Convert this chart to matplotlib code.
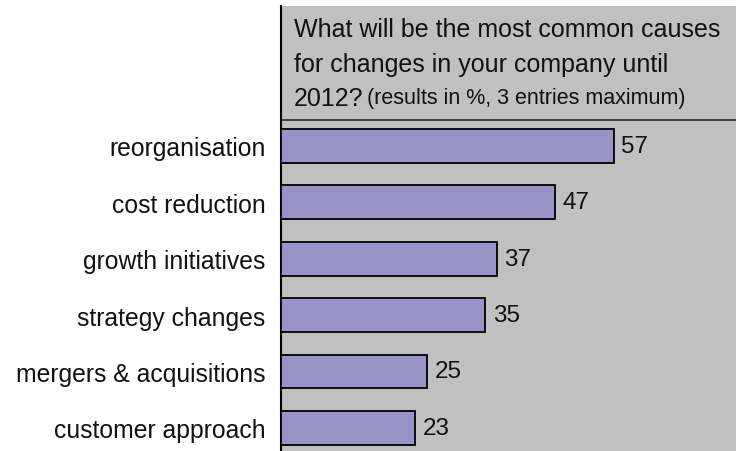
import matplotlib.pyplot as plt

plt.rcParams['font.family'] = ['Liberation Sans', 'DejaVu Sans']

causes = ['reorganisation', 'cost reduction', 'growth initiatives',
          'strategy changes', 'mergers & acquisitions', 'customer approach']
percent = [57, 47, 37, 35, 25, 23]

dpi = 100
fig = plt.figure(figsize=(736 / dpi, 452 / dpi), dpi=dpi)
fig.patch.set_facecolor('white')

# plot area: grey panel, left spine only
ax = fig.add_axes([281 / 736, 0, 455 / 736, 445 / 452])
ax.set_facecolor('#c0c0c0')

pos = list(range(len(causes)))
ax.barh(pos, percent, height=0.6, color='#9894c8', edgecolor='black',
        linewidth=1.3, zorder=3)

for y, v in zip(pos, percent):
    ax.text(v + 1.3, y, str(v), va='center', ha='left', fontsize=17.5,
            color='#111111')

ax.set_xlim(0, 78)
ax.set_ylim(5.41, -2.48)

ax.set_yticks(pos)
ax.set_yticklabels(causes, fontsize=17.8, color='#111111')
ax.tick_params(axis='y', length=0, pad=11)
ax.set_xticks([])

for s in ['top', 'right', 'bottom']:
    ax.spines[s].set_visible(False)
ax.spines['left'].set_linewidth(1.5)

# header box with the question
ax.axhline(-0.46, color='#333333', linewidth=1.3)
ax.text(2.2, -2.07, 'What will be the most common causes', fontsize=18,
        va='center', ha='left', color='#111111')
ax.text(2.2, -1.45, 'for changes in your company until', fontsize=18,
        va='center', ha='left', color='#111111')
ax.text(2.2, -0.85, '2012?', fontsize=18,
        va='center', ha='left', color='#111111')
ax.text(14.8, -0.85, '(results in %, 3 entries maximum)', fontsize=15.5,
        va='center', ha='left', color='#111111')

fig.savefig('out.png', dpi=dpi)
